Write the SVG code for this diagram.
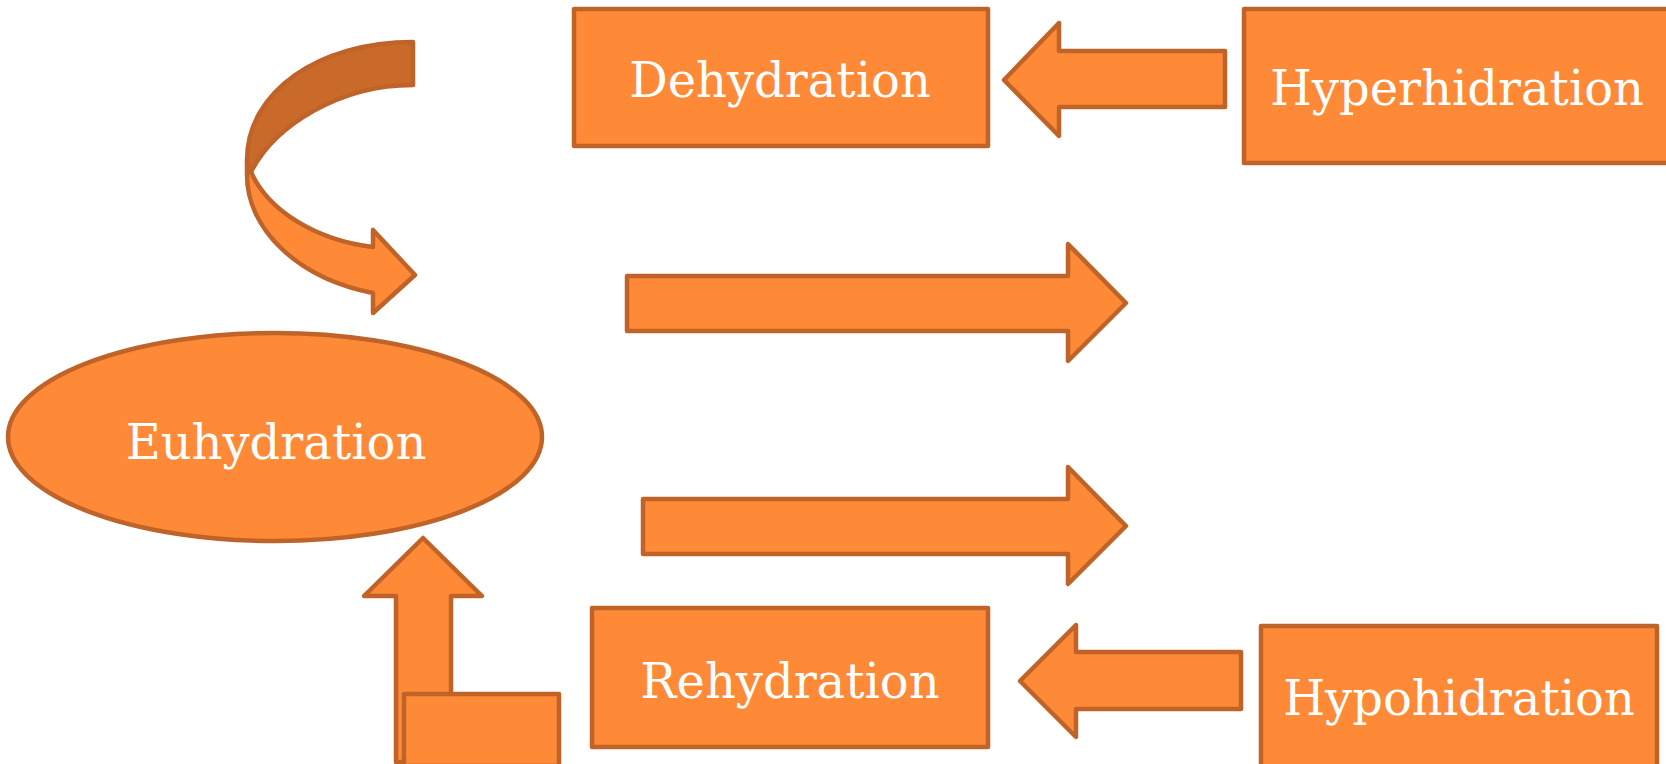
<svg xmlns="http://www.w3.org/2000/svg" width="1666" height="764" viewBox="0 0 1666 764">
<style>
.s{fill:#FE8937;stroke:#BF6329;stroke-width:4.5;stroke-linejoin:round}
.d{fill:#C96A2B;stroke:#BF6329;stroke-width:4.5;stroke-linejoin:round}
.t{fill:#FFFFFF;font-family:"DejaVu Serif","Liberation Serif",serif;font-size:48px;text-anchor:middle}
</style>
<rect width="1666" height="764" fill="#FFFFFF"/>
<g id="connectors">
<path class="d" d="M413,42 C318,42 247,92 247,160 L251,172 C275,125 340,85 413,85 Z"/>
<path class="s" d="M247,160 L247,175 C247,228 296,278 373,293 L373,313 L415,275 L373,230 L373,247 C315,240 268,210 251,172 Z"/>
<path class="s" d="M1225,51 L1059,51 L1059,23 L1004,80 L1059,136 L1059,107 L1225,107 Z"/>
<path class="s" d="M627,276 L1068,276 L1068,244 L1126,303 L1068,361 L1068,331 L627,331 Z"/>
<path class="s" d="M643,499 L1068,499 L1068,467 L1126,526 L1068,584 L1068,554 L643,554 Z"/>
<path class="s" d="M1241,652 L1076,652 L1076,625 L1020,681 L1076,737 L1076,709 L1241,709 Z"/>
<path class="s" d="M396,762 L396,596 L364,596 L423,538 L482,596 L451,596 L451,762 Z"/>
<rect class="s" x="404" y="694" width="155" height="72"/>
</g>
<g id="euhydration">
<ellipse class="s" cx="275" cy="437" rx="267" ry="104"/>
<text class="t" x="276" y="459">Euhydration</text>
</g>
<g id="dehydration">
<rect class="s" x="574" y="9" width="414" height="137"/>
<text class="t" x="780" y="97">Dehydration</text>
</g>
<g id="hyperhidration">
<rect class="s" x="1244" y="9" width="430" height="154"/>
<text class="t" x="1457" y="105">Hyperhidration</text>
</g>
<g id="rehydration">
<rect class="s" x="592" y="608" width="396" height="139"/>
<text class="t" x="790" y="698">Rehydration</text>
</g>
<g id="hypohidration">
<rect class="s" x="1261" y="626" width="396" height="142"/>
<text class="t" x="1459" y="715">Hypohidration</text>
</g>
</svg>
